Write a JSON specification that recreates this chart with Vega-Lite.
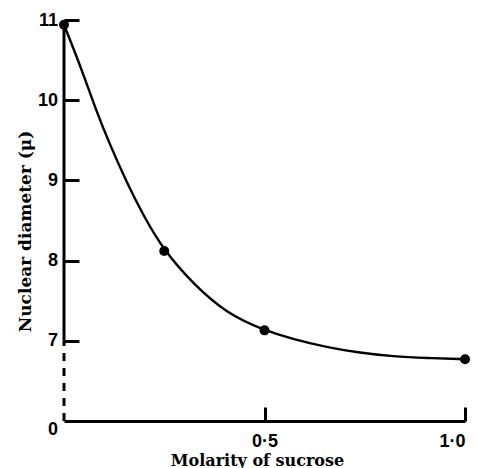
{
  "$schema": "https://vega.github.io/schema/vega-lite/v6.json",
  "width": 401,
  "height": 401,
  "autosize": "none",
  "padding": {"left": 64, "top": 20, "right": 12, "bottom": 47},
  "background": "white",
  "config": {"view": {"stroke": null}},
  "datasets": {
    "points": [
      {"molarity": 0, "diameter": 10.94},
      {"molarity": 0.25, "diameter": 8.12},
      {"molarity": 0.5, "diameter": 7.13},
      {"molarity": 1.0, "diameter": 6.77}
    ],
    "curve": [
      {"molarity": 0, "diameter": 10.94},
      {"molarity": 0.04, "diameter": 10.44},
      {"molarity": 0.081, "diameter": 9.86},
      {"molarity": 0.115, "diameter": 9.44},
      {"molarity": 0.156, "diameter": 8.98},
      {"molarity": 0.198, "diameter": 8.56},
      {"molarity": 0.25, "diameter": 8.12},
      {"molarity": 0.322, "diameter": 7.71},
      {"molarity": 0.406, "diameter": 7.34},
      {"molarity": 0.5, "diameter": 7.13},
      {"molarity": 0.572, "diameter": 7.02},
      {"molarity": 0.655, "diameter": 6.92},
      {"molarity": 0.738, "diameter": 6.85},
      {"molarity": 0.821, "diameter": 6.805},
      {"molarity": 0.904, "diameter": 6.785},
      {"molarity": 1.0, "diameter": 6.77}
    ]
  },
  "layer": [
    {
      "data": {"values": [{}]},
      "mark": {"type": "rule", "strokeWidth": 3, "color": "black", "strokeDash": [8, 7]},
      "encoding": {
        "x": {"datum": 0, "type": "quantitative", "scale": {"domain": [0, 1], "nice": false}},
        "y": {"datum": 6, "type": "quantitative", "scale": {"domain": [6, 11], "nice": false, "zero": false}},
        "y2": {"datum": 7}
      }
    },
    {
      "data": {"values": [{}]},
      "mark": {"type": "rule", "strokeWidth": 3, "color": "black"},
      "encoding": {
        "x": {"datum": 0, "type": "quantitative"},
        "y": {"datum": 7, "type": "quantitative"},
        "y2": {"datum": 11}
      }
    },
    {
      "data": {"name": "curve"},
      "mark": {"type": "line", "interpolate": "basis", "color": "black", "strokeWidth": 2.4, "clip": false},
      "encoding": {
        "x": {
          "field": "molarity", "type": "quantitative",
          "axis": {
            "title": "Molarity of sucrose",
            "titleFont": "DejaVu Serif", "titleFontSize": 16, "titleFontWeight": "bold", "titleColor": "black",
            "titleX": 193, "titleY": 44, "titleBaseline": "alphabetic", "titleAlign": "center",
            "values": [0.5, 1.0], "format": ".1f",
            "labelExpr": "replace(datum.label, '.', '·')",
            "labelFont": "Liberation Sans", "labelFontSize": 18, "labelFontWeight": "bold", "labelColor": "black",
            "grid": false,
            "domainColor": "black", "domainWidth": 3,
            "tickColor": "black", "tickWidth": 3, "tickSize": -14,
            "labelPadding": 25
          }
        },
        "y": {
          "field": "diameter", "type": "quantitative",
          "axis": {
            "title": "Nuclear diameter (μ)",
            "titleFont": "DejaVu Serif", "titleFontSize": 17, "titleFontWeight": "bold", "titleColor": "black",
            "titleX": -34, "titleY": 211, "titleBaseline": "alphabetic", "titleAlign": "center",
            "values": [6, 7, 8, 9, 10, 11], "format": "d",
            "labelExpr": "datum.value == 6 ? '0' : datum.label",
            "labelFont": "Liberation Sans", "labelFontSize": 18, "labelFontWeight": "bold", "labelColor": "black",
            "labelOffset": {"condition": {"test": "datum.value == 6", "value": 8}, "value": 0},
            "grid": false, "domain": false,
            "tickColor": {"condition": {"test": "datum.value == 6", "value": "transparent"}, "value": "black"},
            "tickWidth": 3, "tickSize": -15,
            "labelPadding": 21.5
          }
        }
      }
    },
    {
      "data": {"name": "points"},
      "mark": {"type": "point", "filled": true, "color": "black", "opacity": 1, "size": 100, "clip": false},
      "encoding": {
        "x": {"field": "molarity", "type": "quantitative"},
        "y": {"field": "diameter", "type": "quantitative"}
      }
    }
  ]
}
